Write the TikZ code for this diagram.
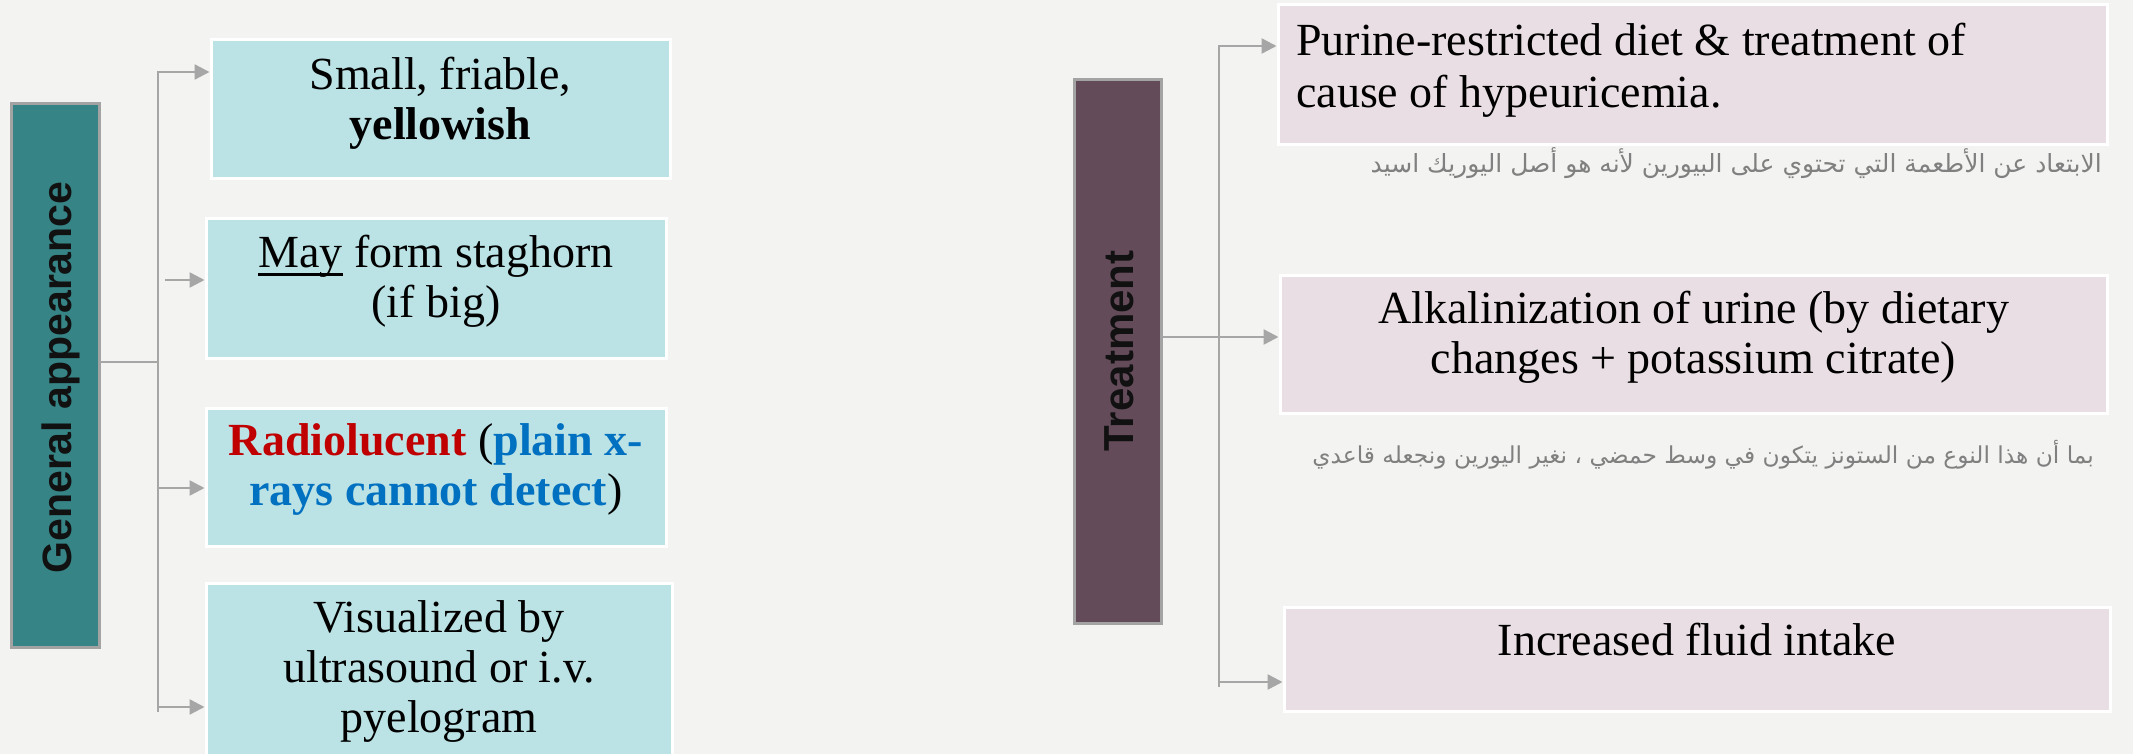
\documentclass[tikz,border=0pt]{standalone}
\usepackage{fontspec}
\setmainfont{Liberation Serif}
\newfontfamily\lsans{Liberation Sans}
\newfontfamily\arabicfont[Script=Arabic]{DejaVu Sans}
\usetikzlibrary{arrows.meta}
\TeXXeTstate=1
\definecolor{bgc}{HTML}{F3F3F1}
\definecolor{tealD}{HTML}{378486}
\definecolor{tealL}{HTML}{BBE2E4}
\definecolor{mauveD}{HTML}{634B59}
\definecolor{mauveL}{HTML}{E9DEE3}
\definecolor{labgray}{HTML}{A3A3A3}
\definecolor{linegray}{HTML}{A6A6A6}
\definecolor{labtextc}{HTML}{111111}
\definecolor{argray}{HTML}{808080}
\definecolor{redc}{HTML}{C00000}
\definecolor{bluec}{HTML}{0070C0}
\newcommand\myul[1]{{\setbox0\hbox{#1}\rlap{\rule[-8.5pt]{\wd0}{2.5pt}}\box0}}
\begin{document}
\begin{tikzpicture}[x=1pt,y=-1pt,
  conn/.style={draw=linegray, line width=2.5pt},
  arr/.style={conn, -{Triangle[length=15pt,width=15pt]}},
  tealbox/.style={rectangle, fill=tealL, draw=white, line width=3pt, inner sep=0pt},
  mauvebox/.style={rectangle, fill=mauveL, draw=white, line width=3pt, inner sep=0pt},
  labbox/.style={rectangle, draw=labgray, line width=3pt, inner sep=0pt},
  bodytext/.style={inner sep=0pt, align=center, font=\fontsize{46}{50}\selectfont, anchor=north},
  labtext/.style={inner sep=0pt, font=\lsans\bfseries\fontsize{41}{49}\selectfont, text=labtextc, rotate=90, anchor=base},
  artext/.style={inner sep=0pt, font=\arabicfont\fontsize{25}{30}\selectfont, text=argray, anchor=base east}
]
\useasboundingbox (0,0) rectangle (2133,754);
\clip (0,0) rectangle (2133,754);
\fill[bgc] (0,0) rectangle (2133,754);

% left group
\node[labbox, fill=tealD, minimum width=88pt, minimum height=543pt] (gen) at (55,375.5) {};
\node[labtext] (gentxt) at (71,377.5) {General appearance};

\node[tealbox, minimum width=459pt, minimum height=139pt] (b1) at (440.5,109.5) {};
\node[tealbox, minimum width=460pt, minimum height=139pt] (b2) at (436,288.5) {};
\node[tealbox, minimum width=460pt, minimum height=138pt] (b3) at (436,477) {};
\node[tealbox, minimum width=466pt, minimum height=217pt] (b4) at (439,691.5) {};

\node[bodytext] (t1) at (440.5,53) {\rule{0pt}{36pt}Small, friable,\\\textbf{yellowish}};
\node[bodytext] (t2) at (436,231) {\rule{0pt}{36pt}\myul{May} form staghorn\\(if big)};
\node[bodytext] (t3) at (436,419) {\rule{0pt}{36pt}{\color{redc}\bfseries Radiolucent} ({\color{bluec}\bfseries plain x-}\\{\color{bluec}\bfseries rays cannot detect})};
\node[bodytext] (t4) at (439,596) {\rule{0pt}{36pt}Visualized by\\ultrasound or i.v.\\pyelogram};

\coordinate (lt) at (158,72);
\coordinate (lb) at (158,712);
\coordinate (lj) at (158,362);
\coordinate (a2s) at (165,280);
\coordinate (l3) at (158,488);
\coordinate (l4) at (158,707);
\draw[arr] (lb) -- (lt) -- (lt -| b1.west);
\draw[conn] (gen.east |- lj) -- (lj);
\draw[arr] (a2s) -- (a2s -| b2.west);
\draw[arr] (l3) -- (l3 -| b3.west);
\draw[arr] (l4) -- (l4 -| b4.west);

% right group
\node[labbox, fill=mauveD, minimum width=87pt, minimum height=543pt] (treat) at (1117.5,351.5) {};
\node[labtext, font=\lsans\bfseries\fontsize{42}{50}\selectfont] (treattxt) at (1133,351) {Treatment};

\node[mauvebox, minimum width=829pt, minimum height=140pt] (r1) at (1692.5,75) {};
\node[mauvebox, minimum width=827pt, minimum height=138pt] (r2) at (1693.5,344) {};
\node[mauvebox, minimum width=826pt, minimum height=104pt] (r3) at (1697,659) {};

\node[bodytext, anchor=north west, align=left, font=\fontsize{46}{52}\selectfont] (s1) at (1296,19) {\rule{0pt}{36pt}Purine-restricted diet \& treatment of\\cause of hypeuricemia.};
\node[bodytext] (s2) at (1693.5,287) {\rule{0pt}{36pt}Alkalinization of urine (by dietary\\changes + potassium citrate)};
\node[bodytext] (s3) at (1697,619) {\rule{0pt}{36pt}Increased fluid intake};

\node[artext] (ar1) at (2102,173) {\beginR الابتعاد عن الأطعمة التي تحتوي على البيورين لأنه هو أصل اليوريك اسيد\endR};
\node[artext, font=\arabicfont\fontsize{23.3}{30}\selectfont] (ar2) at (2094,463) {\beginR بما أن هذا النوع من الستونز يتكون في وسط حمضي ، نغير  اليورين ونجعله قاعدي\endR};

\coordinate (rt) at (1219,46);
\coordinate (rb) at (1219,687);
\coordinate (rj) at (1219,337);
\coordinate (r3c) at (1219,682);
\draw[arr] (rb) -- (rt) -- (rt -| r1.west);
\draw[arr] (treat.east |- rj) -- (rj -| r2.west);
\draw[arr] (r3c) -- (r3c -| r3.west);
\end{tikzpicture}
\end{document}
